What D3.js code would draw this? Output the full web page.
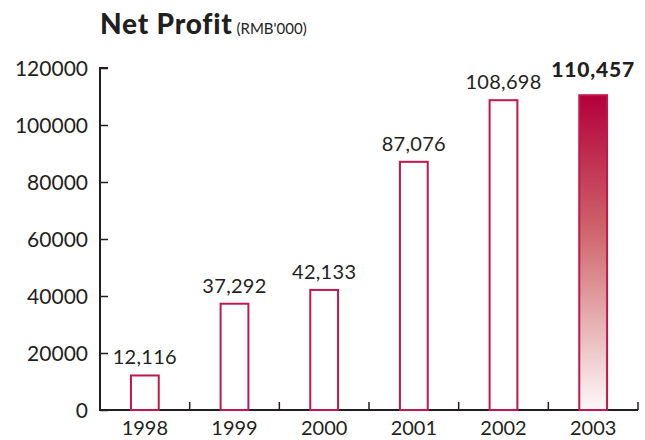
<!DOCTYPE html>
<html>
<head>
<meta charset="utf-8">
<script src="https://cdn.jsdelivr.net/npm/d3@7"></script>
<style>
  body { margin: 0; background: #fff; }
  text { font-family: Lato, "Open Sans", sans-serif; fill: #231f20; }
</style>
</head>
<body>
<div id="chart"><svg></svg></div>
<script>
const years = ["1998", "1999", "2000", "2001", "2002", "2003"];
const profit = [12116, 37292, 42133, 87076, 108698, 110457];
const yTicks = [0, 20000, 40000, 60000, 80000, 100000, 120000];

const width = 645, height = 440;
const plotLeft = 100, plotRight = 638, plotTop = 68, plotBottom = 410;
const red = "#c2174a";

const svg = d3.select("#chart svg")
  .attr("width", width)
  .attr("height", height);

const defs = svg.append("defs");
const grad = defs.append("linearGradient")
  .attr("id", "hl").attr("x1", 0).attr("x2", 0).attr("y1", 0).attr("y2", 1);
grad.append("stop").attr("offset", "0%").attr("stop-color", "#b3003a");
grad.append("stop").attr("offset", "45%").attr("stop-color", "#cf6a6e");
grad.append("stop").attr("offset", "100%").attr("stop-color", "#fdf8f8");

const x = d3.scaleBand().domain(years).range([plotLeft, plotRight])
  .paddingInner(0.69).paddingOuter(0.345);
const y = d3.scaleLinear().domain([0, 120000]).range([plotBottom, plotTop]);
const step = x.step();

// title
const title = svg.append("text").attr("x", 100).attr("y", 34);
title.append("tspan").text("Net Profit")
  .style("font-size", "28px").style("font-weight", 900).style("letter-spacing", "0.8px");
title.append("tspan").text(" (RMB'000)")
  .style("font-size", "15px");

// y axis
const yAxis = svg.append("g")
  .attr("transform", `translate(${plotLeft},0)`)
  .call(d3.axisRight(y).tickValues(yTicks).tickSize(8).tickFormat(d3.format("d")));
yAxis.select(".domain").attr("d", `M8,${plotTop}H0V${plotBottom}`).attr("stroke", "#231f20").attr("stroke-width", 2);
yAxis.selectAll(".tick line").attr("stroke", "#231f20").attr("stroke-width", 1.5);
yAxis.selectAll(".tick text")
  .attr("x", -12).attr("text-anchor", "end").attr("dy", "0.35em")
  .style("font-size", "21px").style("fill", "#231f20");

// x axis
svg.append("line")
  .attr("x1", plotLeft - 1).attr("x2", plotRight)
  .attr("y1", plotBottom).attr("y2", plotBottom)
  .attr("stroke", "#231f20").attr("stroke-width", 2);
svg.selectAll(".xtick")
  .data(years)
  .join("line")
  .attr("class", "xtick")
  .attr("x1", d => x(d) + x.bandwidth() / 2 + step / 2)
  .attr("x2", d => x(d) + x.bandwidth() / 2 + step / 2)
  .attr("y1", plotBottom).attr("y2", plotBottom - 8)
  .attr("stroke", "#231f20").attr("stroke-width", 1.5);
svg.selectAll(".xlabel")
  .data(years)
  .join("text")
  .attr("class", "xlabel")
  .attr("x", d => x(d) + x.bandwidth() / 2)
  .attr("y", 435)
  .attr("text-anchor", "middle")
  .style("font-size", "20px")
  .text(d => d);

// bars
const last = years.length - 1;
svg.selectAll(".bar")
  .data(profit)
  .join("rect")
  .attr("class", "bar")
  .attr("x", (d, i) => x(years[i]))
  .attr("y", d => y(d))
  .attr("width", x.bandwidth())
  .attr("height", d => plotBottom - y(d))
  .attr("fill", (d, i) => i === last ? "url(#hl)" : "#fff")
  .attr("stroke", red)
  .attr("stroke-width", 2);

svg.selectAll(".val")
  .data(profit)
  .join("text")
  .attr("class", "val")
  .attr("x", (d, i) => x(years[i]) + x.bandwidth() / 2)
  .attr("y", (d, i) => y(d) - (i === last ? 18 : 11))
  .attr("text-anchor", "middle")
  .style("font-size", (d, i) => i === last ? "21px" : "20px")
  .style("font-weight", (d, i) => i === last ? 900 : 400)
  .style("letter-spacing", (d, i) => i === last ? "0.8px" : "0.3px")
  .text(d => d3.format(",")(d));
</script>
</body>
</html>
